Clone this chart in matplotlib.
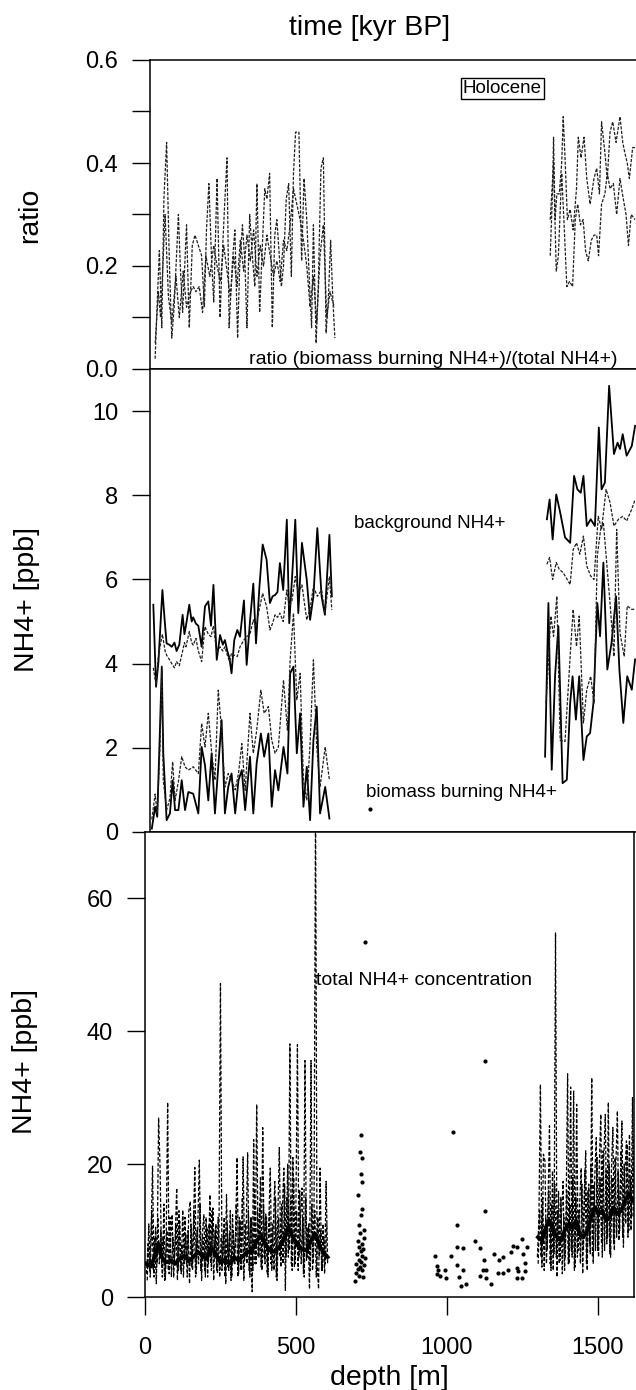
import numpy as np
import matplotlib
matplotlib.use('Agg')
import matplotlib.pyplot as plt

plt.rcParams['font.family'] = ['Liberation Sans', 'DejaVu Sans']

# ---------------- top panel: ratio ----------------
ratio_a_depth_1 = [17, 24, 31, 39, 46, 55, 64, 72, 80, 94, 101, 108, 121, 130, 140, 149, 160, 171,
                   180, 187, 195, 204, 211, 222, 232, 240, 248, 255, 262, 273, 281, 290, 297, 306,
                   314, 321, 330, 340, 347, 354, 363, 372, 380, 387, 396, 405, 413, 420, 427, 435,
                   442, 451, 459, 468, 475, 482, 493, 502, 510, 519, 527, 535, 541, 550, 557, 566,
                   574, 583, 590, 598, 605, 612]
ratio_a_1 = [.02, .13, .23, .08, .33, .44, .21, .06, .12, .30, .19, .11, .28, .08, .24, .26, .24, .22,
             .12, .27, .36, .21, .13, .37, .10, .23, .33, .41, .08, .21, .27, .06, .20, .28,
             .21, .08, .30, .21, .16, .36, .11, .24, .35, .33, .38, .08, .26, .29, .23, .16,
             .20, .33, .36, .18, .38, .46, .46, .21, .37, .29, .18, .08, .28, .05, .16, .39,
             .41, .07, .13, .25, .14, .06]
ratio_b_depth_1 = [17, 28, 35, 50, 61, 72, 86, 97, 110, 121, 134, 143, 152, 163, 174, 185, 198, 211,
                   222, 233, 244, 255, 266, 277, 288, 299, 310, 321, 332, 343, 354, 365, 376, 387,
                   398, 409, 420, 431, 442, 453, 464, 475, 486, 497, 508, 519, 530, 541, 552, 563,
                   574, 585, 596, 605, 611]
ratio_b_1 = [.05, .15, .10, .30, .14, .09, .18, .10, .19, .12, .15, .16, .15, .16, .11, .22, .18, .24,
             .20, .17, .24, .19, .14, .22, .16, .25, .19, .26, .21, .27, .18, .24, .20, .26,
             .22, .18, .21, .17, .25, .23, .28, .35, .32, .29, .25, .20, .12, .18, .09, .22,
             .28, .10, .15, .13, .12]
ratio_a_depth_2 = [1325, 1333, 1336, 1341, 1347, 1355, 1363, 1368, 1374, 1382, 1391, 1401, 1412, 1418,
                   1427, 1437, 1446, 1457, 1470, 1479, 1488, 1495, 1506, 1514, 1523, 1532, 1543, 1556,
                   1565, 1572, 1580, 1587, 1598, 1606]
ratio_a_2 = [.22, .35, .45, .29, .34, .34, .40, .49, .41, .29, .31, .27, .35, .45,
             .41, .45, .37, .32, .37, .39, .34, .48, .42, .37, .46, .48, .44, .49,
             .44, .42, .40, .37, .43, .43]
ratio_b_depth_2 = [1325, 1336, 1345, 1352, 1363, 1371, 1380, 1389, 1399, 1408, 1416, 1425, 1434, 1442,
                   1451, 1461, 1470, 1479, 1485, 1495, 1506, 1514, 1523, 1534, 1545, 1556, 1567, 1576,
                   1584, 1593, 1606]
ratio_b_2 = [.29, .40, .19, .22, .38, .28, .16, .17, .16, .29, .32, .28, .29, .23,
             .21, .25, .26, .26, .22, .32, .34, .38, .35, .36, .30, .37, .33, .30,
             .24, .30, .29]

# ---------------- middle panel: background / biomass burning NH4+ ----------------
bg_depth_1 = [11, 20, 28, 41, 50, 55, 64, 72, 81, 88, 97, 108, 114, 119, 130, 138, 143, 152, 160, 171,
              182, 193, 202, 210, 221, 232, 241, 248, 256, 263, 270, 279, 289, 298, 311, 320, 331, 342,
              351, 362, 373, 386, 397, 406, 414, 422, 430, 441, 453, 461, 470, 481, 491, 503, 519, 530,
              541, 554, 568, 579, 594, 602]
bg_solid_1 = [5.4, 3.45, 4.05, 5.75, 4.9, 4.48, 4.45, 4.4, 4.5, 4.3, 4.45, 5.16, 4.7, 4.9, 5.4, 5.0,
              5.1, 4.95, 4.9, 4.4, 5.36, 5.48, 4.9, 5.87, 4.09, 4.68, 4.45, 4.56, 4.3, 4.13, 3.77,
              4.56, 4.8, 4.64, 5.5, 3.97, 5.0, 5.9, 4.48, 5.8, 6.83, 6.47, 5.44, 5.6, 5.63, 5.7,
              6.39, 5.75, 7.42, 4.96, 6.0, 7.42, 5.2, 6.87, 5.99, 5.04, 5.6, 7.22, 5.6, 5.16, 7.06, 5.6]
bg_dashed_1 = [3.9, 3.5, 4.2, 4.7, 4.3, 4.2, 4.1, 4.0, 3.9, 4.05, 3.95, 4.3, 4.5, 4.4, 4.76, 4.5,
               4.44, 4.6, 4.3, 4.05, 4.88, 4.7, 4.64, 4.9, 4.25, 4.4, 4.3, 4.4, 4.2, 4.05, 4.25,
               4.2, 4.17, 4.4, 4.56, 4.64, 4.7, 5.04, 4.88, 5.3, 5.67, 5.36, 4.8, 4.96, 5.16, 5.1,
               5.2, 5.0, 5.75, 5.36, 5.5, 6.07, 5.67, 5.87, 5.04, 5.3, 5.83, 5.6, 5.75, 5.2, 6.07, 5.28]
bb_depth_1 = [6, 17, 24, 33, 39, 44, 55, 66, 75, 83, 94, 105, 116, 127, 143, 160, 171, 182, 193, 204,
              215, 226, 237, 248, 259, 270, 282, 293, 304, 315, 331, 342, 353, 367, 378, 392, 403, 414,
              425, 442, 455, 464, 475, 486, 497, 508, 519, 530, 541, 552, 563, 580, 594]
bb_solid_1 = [0.08, 0.6, 0.36, 2.46, 3.93, 1.87, 0.28, 0.44, 1.23, 0.52, 0.52, 1.23, 0.52, 0.95, 0.91,
              0.44, 2.02, 1.59, 0.75, 1.87, 0.44, 1.55, 2.66, 0.44, 1.07, 1.39, 0.44, 1.23, 1.47, 0.52,
              1.79, 0.44, 1.63, 2.34, 1.79, 2.34, 0.6, 1.47, 0.99, 2.02, 1.39, 3.77, 3.93, 1.87, 2.82,
              0.6, 1.55, 0.28, 2.18, 2.98, 0.44, 1.07, 0.32]
bb_dashed_1 = [0.3, 0.9, 0.44, 2.0, 3.85, 1.23, 0.52, 0.8, 1.67, 0.75, 1.2, 1.79, 1.55, 1.47, 1.55,
               1.39, 2.58, 2.02, 2.82, 1.9, 1.23, 3.37, 2.42, 1.07, 1.39, 1.23, 1.0, 1.39, 2.1, 0.99,
               2.82, 1.87, 2.4, 3.37, 2.82, 2.98, 2.18, 1.87, 2.02, 3.61, 2.42, 4.09, 5.2, 3.14, 3.77,
               1.23, 0.75, 2.1, 4.09, 2.02, 1.07, 2.02, 1.23]

bg_solid_depth_2 = [1314, 1323, 1333, 1345, 1358, 1374, 1391, 1404, 1415, 1426, 1435, 1446, 1459,
                    1473, 1486, 1495, 1506, 1520, 1536, 1548, 1556, 1565, 1578, 1595, 1606]
bg_solid_2 = [7.43, 7.9, 6.95, 8.02, 7.59, 7.0, 6.87, 8.46, 8.14, 8.06, 8.46, 7.27, 7.43,
              7.27, 9.61, 8.14, 8.3, 10.6, 8.98, 9.25, 9.1, 9.45, 8.94, 9.17, 9.65]
bg_dashed_depth_2 = [1314, 1323, 1333, 1345, 1355, 1368, 1391, 1401, 1412, 1423, 1435, 1446, 1459,
                     1470, 1484, 1495, 1510, 1523, 1536, 1551, 1565, 1578, 1595, 1606]
bg_dashed_2 = [6.36, 6.52, 6.0, 6.4, 6.24, 6.16, 5.88, 6.71, 6.87, 6.6, 7.03, 6.32, 6.08,
               6.0, 7.5, 7.19, 8.14, 7.83, 7.27, 7.43, 7.5, 7.39, 7.67, 7.9]
bb_solid_depth_2 = [1308, 1319, 1330, 1341, 1352, 1366, 1380, 1391, 1399, 1410, 1421, 1435, 1446,
                    1457, 1468, 1481, 1490, 1501, 1514, 1528, 1543, 1554, 1567, 1580, 1595, 1606]
bb_solid_2 = [1.79, 5.44, 1.48, 3.7, 4.89, 1.16, 1.24, 3.06, 3.7, 2.67, 3.7, 1.71, 2.27,
              2.35, 3.06, 5.44, 4.65, 6.4, 3.86, 4.49, 5.6, 3.86, 2.59, 3.7, 3.38, 4.1]
bb_dashed_depth_2 = [1311, 1319, 1327, 1336, 1347, 1358, 1374, 1391, 1401, 1412, 1421, 1435, 1446,
                     1459, 1470, 1481, 1492, 1501, 1512, 1523, 1536, 1545, 1556, 1570, 1580, 1595, 1606]
bb_dashed_2 = [3.06, 4.02, 5.13, 4.65, 5.6, 2.18, 2.15, 4.17, 5.29, 4.41, 5.13, 2.59, 3.38,
               3.7, 3.06, 6.56, 7.19, 7.35, 6.4, 5.44, 4.17, 7.19, 4.73, 4.17, 5.37, 5.29, 5.29]
bb_dot = ([728], [0.55])

# ---------------- bottom panel: total NH4+ ----------------
total_depth_1 = [5, 10, 15, 20, 25, 30, 35, 40, 45, 50,
                 55, 60, 65, 70, 75, 80, 85, 90, 95, 100,
                 105, 110, 115, 120, 125, 130, 135, 140, 145, 150,
                 155, 160, 165, 170, 175, 180, 185, 190, 195, 200,
                 205, 210, 215, 220, 225, 230, 235, 240, 245, 250,
                 255, 260, 265, 270, 275, 280, 285, 290, 295, 300,
                 305, 310, 315, 320, 325, 330, 335, 340, 345, 350,
                 355, 360, 365, 370, 375, 380, 385, 390, 395, 400,
                 405, 410, 415, 420, 425, 430, 435, 440, 445, 450,
                 455, 460, 465, 470, 475, 480, 485, 490, 495, 500,
                 505, 510, 515, 520, 525, 530, 535, 540, 545, 550,
                 555, 560, 565, 570, 575, 580, 585, 590, 595, 600, 605]
total_1 = [3.5, 8.0, 4.0, 9.5, 19.7, 3.0, 10.5, 5.0, 27.0, 19.4,
           4.5, 9.0, 2.5, 7.5, 29.3, 3.5, 8.5, 12.4, 3.0, 9.0,
           16.4, 4.0, 11.4, 3.5, 13.1, 5.0, 9.5, 3.0, 12.9, 14.4,
           4.5, 10.0, 19.5, 3.5, 11.0, 20.6, 4.0, 9.5, 12.4, 3.0,
           10.5, 5.0, 15.4, 4.0, 13.4, 6.0, 11.0, 3.5, 9.0, 47.2,
           4.0, 10.0, 3.0, 15.4, 4.5, 9.5, 2.5, 12.4, 5.0, 9.0,
           21.0, 3.5, 11.5, 4.0, 21.1, 5.5, 10.0, 21.7, 4.0, 12.0,
           0.8, 23.7, 5.0, 29.0, 6.0, 14.0, 4.5, 25.5, 6.0, 12.5,
           3.5, 11.0, 19.4, 4.0, 10.5, 17.4, 3.0, 12.0, 22.5, 4.5,
           13.0, 19.4, 1.0, 15.0, 6.0, 38.1, 5.0, 21.0, 4.5, 14.0,
           38.0, 6.0, 12.0, 16.4, 3.5, 35.6, 5.5, 10.5, 1.2, 35.6,
           4.0, 13.0, 75.0, 5.0, 1.2, 19.4, 4.0, 11.0, 3.5, 17.4, 5.0]
total_b_depth_1 = [7.5, 12.5, 17.5, 22.5, 27.5, 32.5, 37.5, 42.5, 47.5, 52.5,
                   57.5, 62.5, 67.5, 72.5, 77.5, 82.5, 87.5, 92.5, 97.5, 102.5,
                   107.5, 112.5, 117.5, 122.5, 127.5, 132.5, 137.5, 142.5, 147.5, 152.5,
                   157.5, 162.5, 167.5, 172.5, 177.5, 182.5, 187.5, 192.5, 197.5, 202.5,
                   207.5, 212.5, 217.5, 222.5, 227.5, 232.5, 237.5, 242.5, 247.5, 252.5,
                   257.5, 262.5, 267.5, 272.5, 277.5, 282.5, 287.5, 292.5, 297.5, 302.5,
                   307.5, 312.5, 317.5, 322.5, 327.5, 332.5, 337.5, 342.5, 347.5, 352.5,
                   357.5, 362.5, 367.5, 372.5, 377.5, 382.5, 387.5, 392.5, 397.5, 402.5,
                   407.5, 412.5, 417.5, 422.5, 427.5, 432.5, 437.5, 442.5, 447.5, 452.5,
                   457.5, 462.5, 467.5, 472.5, 477.5, 482.5, 487.5, 492.5, 497.5, 502.5,
                   507.5, 512.5, 517.5, 522.5, 527.5, 532.5, 537.5, 542.5, 547.5, 552.5,
                   557.5, 562.5, 567.5, 572.5, 577.5, 582.5, 587.5, 592.5, 597.5, 602.5]
total_b_1 = [2.5, 11, 3, 13, 4, 9, 2, 12, 5, 10,
             3, 14, 2.5, 10, 4, 12, 3, 9, 5, 11,
             2.5, 13, 4, 8, 3, 12, 5, 10, 2, 11,
             4, 13, 3, 10, 5, 14, 2.5, 9, 4, 12,
             3, 11, 5, 13, 2.5, 10, 4, 12, 3, 9,
             5, 12, 2, 11, 4, 13, 3, 10, 5, 14,
             3, 12, 4, 15, 2.5, 11, 5, 13, 3, 12,
             4, 16, 5, 13, 6, 18, 4, 14, 5, 12,
             3, 13, 5, 11, 4, 15, 2.5, 12, 6, 14,
             5, 17, 6, 20, 7, 15, 4, 18, 5, 13,
             4, 16, 5, 12, 3, 15, 6, 11, 4, 14,
             5, 13, 3, 12, 6, 10, 4, 9, 5, 11]
total_depth_2 = [1300, 1305, 1310, 1315, 1320, 1325, 1330, 1335, 1340, 1345,
                 1350, 1355, 1360, 1365, 1370, 1375, 1380, 1385, 1390, 1395,
                 1400, 1405, 1410, 1415, 1420, 1425, 1430, 1435, 1440, 1445,
                 1450, 1455, 1460, 1465, 1470, 1475, 1480, 1485, 1490, 1495,
                 1500, 1505, 1510, 1515, 1520, 1525, 1530, 1535, 1540, 1545,
                 1550, 1555, 1560, 1565, 1570, 1575, 1580, 1585, 1590, 1595,
                 1600, 1605, 1610, 1615, 1620]
total_2 = [6.0, 12.0, 32.0, 4.5, 21.5, 20.5, 5.0, 14.0, 25.8, 4.0,
           19.0, 6.5, 54.8, 3.0, 15.9, 5.5, 12.5, 17.4, 4.0, 13.0,
           33.6, 5.0, 31.6, 6.0, 31.0, 4.5, 29.0, 7.0, 14.0, 19.4,
           3.5, 15.0, 22.0, 4.0, 17.0, 6.5, 33.0, 5.0, 18.0, 24.0,
           7.0, 20.0, 27.5, 6.0, 21.0, 27.5, 8.0, 29.3, 6.5, 19.0,
           25.5, 7.0, 20.0, 28.0, 8.5, 18.0, 26.5, 7.5, 19.0, 23.5,
           9.0, 24.5, 10.0, 30.0, 12.0]
total_b_depth_2 = [1302.5, 1307.5, 1312.5, 1317.5, 1322.5, 1327.5, 1332.5, 1337.5, 1342.5, 1347.5,
                   1352.5, 1357.5, 1362.5, 1367.5, 1372.5, 1377.5, 1382.5, 1387.5, 1392.5, 1397.5,
                   1402.5, 1407.5, 1412.5, 1417.5, 1422.5, 1427.5, 1432.5, 1437.5, 1442.5, 1447.5,
                   1452.5, 1457.5, 1462.5, 1467.5, 1472.5, 1477.5, 1482.5, 1487.5, 1492.5, 1497.5,
                   1502.5, 1507.5, 1512.5, 1517.5, 1522.5, 1527.5, 1532.5, 1537.5, 1542.5, 1547.5,
                   1552.5, 1557.5, 1562.5, 1567.5, 1572.5, 1577.5, 1582.5, 1587.5, 1592.5, 1597.5,
                   1602.5, 1607.5, 1612.5, 1617.5]
total_b_2 = [5, 13, 6, 15, 4, 12, 7, 16, 5, 14,
             4, 17, 6, 13, 5, 15, 3.5, 12, 6, 16,
             5, 14, 7, 18, 4, 15, 6, 13, 5, 17,
             7, 19, 5, 16, 8, 20, 6, 17, 7, 21,
             6, 18, 8, 22, 7, 19, 9, 20, 6, 18,
             8, 21, 9, 19, 10, 22, 9, 20, 11, 23,
             10, 18, 12, 24]
mean_depth_1 = [5, 20, 35, 45, 55, 70, 85, 100, 115, 130, 145, 160, 175, 190, 205, 220, 235, 250,
                265, 280, 295, 310, 325, 340, 355, 370, 385, 400, 415, 430, 445, 460, 475, 490,
                505, 520, 535, 550, 565, 580, 595, 605]
mean_1 = [5.0, 4.6, 6.5, 8.0, 6.0, 5.2, 5.5, 5.0, 5.8, 6.2, 5.4, 6.0, 6.8, 6.2, 5.8, 7.5, 6.3, 5.2,
          5.6, 5.0, 6.0, 5.5, 6.2, 6.8, 7.0, 8.5, 9.2, 7.8, 7.0, 6.8, 7.5, 8.8, 10.5, 9.0,
          7.8, 7.2, 7.0, 8.5, 9.5, 7.5, 6.5, 6.0]
mean_depth_2 = [1302, 1315, 1328, 1340, 1352, 1365, 1378, 1390, 1403, 1415, 1428, 1440, 1452,
                1465, 1478, 1490, 1503, 1515, 1528, 1540, 1552, 1565, 1578, 1590, 1603, 1615]
mean_2 = [9.0, 8.5, 10.5, 11.5, 10.0, 9.0, 8.5, 10.0, 11.0, 10.5, 11.5, 9.5, 9.0,
          10.0, 12.0, 13.5, 12.5, 13.0, 11.5, 12.0, 13.5, 12.5, 13.0, 14.5, 15.5, 14.5]
dots_depth = [728, 714, 712, 718, 716, 720, 705, 718, 716, 708, 724, 712, 726, 704, 718, 710, 722,
              714, 702, 720, 728, 708, 716, 700, 724, 712, 706, 718, 698, 710, 722, 696,
              1019, 1128, 1127, 1032, 960, 1015, 1032, 1054, 1092, 1109, 966, 971, 993, 977, 996, 968,
              1032, 1054, 1041, 1048, 1065, 1124, 1121, 1109, 1131, 1145, 1156, 1173, 1187, 1170,
              1187, 1203, 1214, 1218, 1234, 1248, 1264, 1253, 1259, 1231, 1237, 1231, 1248, 1259, 1131]
dots_val = [53.5, 24.4, 21.8, 20.9, 18.5, 17.3, 15.3, 13.3, 12.4, 10.9, 10.1, 9.7, 8.9, 8.5, 8.0,
            7.6, 7.2, 6.9, 6.5, 6.2, 5.8, 5.5, 5.2, 5.0, 4.8, 4.5, 4.2, 4.0, 3.6, 3.2, 3.0, 2.4,
            24.8, 35.6, 12.9, 10.9, 6.1, 6.2, 7.6, 7.4, 8.5, 7.4, 4.6, 4.0, 4.0, 3.1, 2.9, 3.4,
            4.8, 4.1, 3.0, 1.7, 2.0, 5.5, 4.1, 3.1, 4.0, 2.0, 6.5, 5.6, 6.0, 3.6,
            3.6, 4.1, 6.7, 7.7, 7.6, 8.7, 7.6, 6.4, 5.1, 4.4, 3.9, 2.9, 2.9, 3.9, 2.9]

yticks_ratio = [0.0, 0.2, 0.4, 0.6]
yticks_mid = [0, 2, 4, 6, 8, 10]
yticks_bot = [0, 20, 40, 60]
xticks_depth = [0, 500, 1000, 1500]

# ---------------- figure ----------------
W, H = 636, 1390
fig = plt.figure(figsize=(W / 100, H / 100), dpi=100)


def box(x0, y0, x1, y1):
    return [x0 / W, 1 - y1 / H, (x1 - x0) / W, (y1 - y0) / H]


ax1 = fig.add_axes(box(150, 60, 636, 369))
ax2 = fig.add_axes(box(150, 369, 636, 832))
ax3 = fig.add_axes(box(145, 832, 634, 1297))

dash = (0, (2.5, 1.2))
thin = dict(color='0.12', lw=0.9, ls=dash)
tdash = dict(color='k', lw=0.9, ls=(0, (3, 1.5)))

ax1.plot(ratio_a_depth_1, ratio_a_1, **thin)
ax1.plot(ratio_b_depth_1, ratio_b_1, **thin)
ax1.plot(ratio_a_depth_2, ratio_a_2, **thin)
ax1.plot(ratio_b_depth_2, ratio_b_2, **thin)

ax2.plot(bg_depth_1, bg_solid_1, color='k', lw=1.3)
ax2.plot(bg_depth_1, bg_dashed_1, **thin)
ax2.plot(bb_depth_1, bb_solid_1, color='k', lw=1.3)
ax2.plot(bb_depth_1, bb_dashed_1, **thin)
ax2.plot(bg_solid_depth_2, bg_solid_2, color='k', lw=1.3)
ax2.plot(bg_dashed_depth_2, bg_dashed_2, **thin)
ax2.plot(bb_solid_depth_2, bb_solid_2, color='k', lw=1.3)
ax2.plot(bb_dashed_depth_2, bb_dashed_2, **thin)
ax2.plot(bb_dot[0], bb_dot[1], 'o', color='k', ms=2)

ax3.plot(total_depth_1, total_1, **tdash)
ax3.plot(total_b_depth_1, total_b_1, **tdash)
ax3.plot(total_depth_2, total_2, **tdash)
ax3.plot(total_b_depth_2, total_b_2, **tdash)
ax3.plot(mean_depth_1, mean_1, color='k', lw=2.8)
ax3.plot(mean_depth_2, mean_2, color='k', lw=2.8)
ax3.plot(dots_depth, dots_val, 'o', color='k', ms=2.0, ls='none')

ax1.set_xlim(0, 1609)
ax2.set_xlim(0, 1609)
ax3.set_xlim(0, 1620)
ax1.set_ylim(0, 0.6)
ax2.set_ylim(0, 11.0)
ax3.set_ylim(0, 70)

ax1.set_yticks(yticks_ratio)
ax1.set_yticklabels(['%.1f' % v for v in yticks_ratio])
ax1.set_yticks([0.1, 0.3, 0.5], minor=True)
ax2.set_yticks(yticks_mid)
ax3.set_yticks(yticks_bot)
ax3.set_xticks(xticks_depth)

for ax in (ax1, ax2, ax3):
    ax.tick_params(axis='y', which='both', direction='out', length=13, width=1,
                   pad=10, labelsize=17)
    ax.spines['right'].set_visible(False)
    for s in ax.spines.values():
        s.set_linewidth(1.1)
for ax in (ax1, ax2):
    ax.tick_params(axis='x', bottom=False, labelbottom=False)
ax3.spines['right'].set_visible(True)
ax3.tick_params(axis='x', direction='out', length=13, width=1, pad=16, labelsize=17)
ax3.set_xlabel('depth [m]', fontsize=20.5, labelpad=4)

fig.text(370 / W, 1 - 28 / H, 'time [kyr BP]', ha='center', va='center', fontsize=20.5)
fig.text(30 / W, 1 - 215 / H, 'ratio', ha='center', va='center', rotation=90, fontsize=20.5)
fig.text(27 / W, 1 - 600 / H, 'NH4+ [ppb]', ha='center', va='center', rotation=90, fontsize=20.5)
fig.text(25 / W, 1 - 1062 / H, 'NH4+ [ppb]', ha='center', va='center', rotation=90, fontsize=20.5)

ax1.text(1166, 0.544, 'Holocene', ha='center', va='center', fontsize=13.5,
         bbox=dict(boxstyle='square,pad=0.1', fc='none', ec='k', lw=1))
ax1.text(328, 0.009, 'ratio (biomass burning NH4+)/(total NH4+)', ha='left',
         va='baseline', fontsize=14)
ax2.text(675, 7.34, 'background NH4+', ha='left', va='center', fontsize=13.5)
ax2.text(715, 0.93, 'biomass burning NH4+', ha='left', va='center', fontsize=13.5)
ax3.text(566, 47.6, 'total NH4+ concentration', ha='left', va='center', fontsize=14)

fig.savefig('out.png', dpi=100)
